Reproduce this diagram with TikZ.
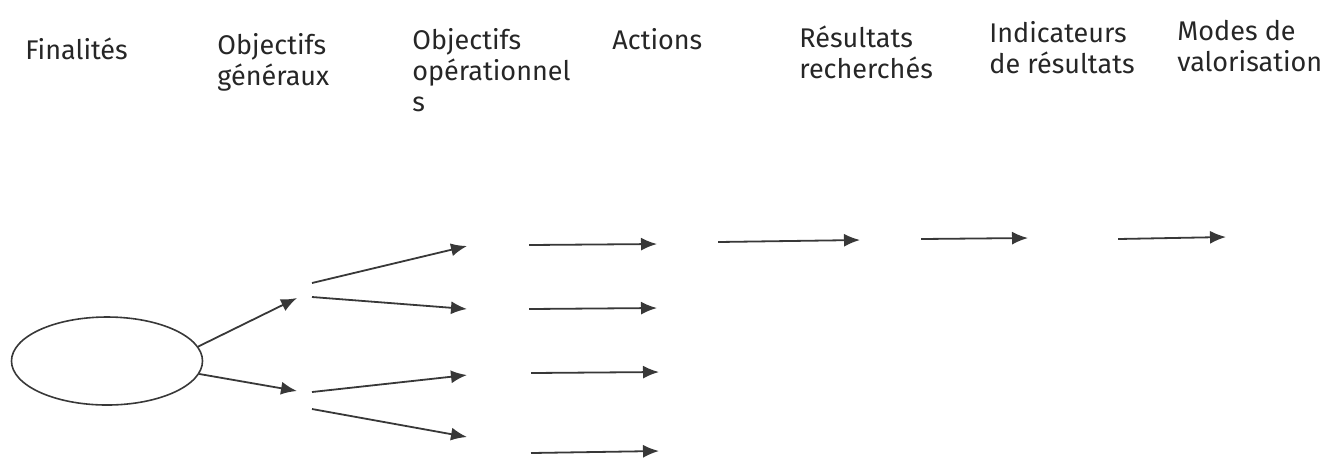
\documentclass[tikz,border=0pt]{standalone}
\usepackage{fontspec}
\setmainfont{Fira Sans}
\usetikzlibrary{arrows.meta,shapes.geometric}
\tikzset{
  hdr/.style={anchor=base west, inner sep=0pt, align=left, text=black!85,
    font=\fontsize{13.5}{15.3}\selectfont},
  fl/.style={-{Latex[length=8pt,width=6.5pt]}, line width=0.9pt, draw=black!78},
}
\begin{document}
\begin{tikzpicture}[x=0.5pt,y=-0.5pt]
\useasboundingbox (0,0) rectangle (1325,457);
% column headers (anchored on the last line)
\node[hdr] (fin) at (25,59) {Finalités};
\node[hdr] (ogen) at (217,85) {Objectifs\\généraux};
\node[hdr] (oop) at (412,111) {Objectifs\\opérationnel\\s};
\node[hdr] (act) at (612,49) {Actions};
\node[hdr] (res) at (799,78) {Résultats\\recherchés};
\node[hdr] (ind) at (989,73) {Indicateurs\\de résultats};
\node[hdr] (val) at (1177,71) {Modes de\\valorisation};
% ellipse
\node[ellipse, draw=black!78, line width=0.8pt, minimum width=95.5pt, minimum height=44pt] (ell) at (107,361){};
% objectifs generaux
\coordinate (og1) at (297,298);
\coordinate (og2) at (297,391);
\draw[fl](ell.9) -- (og1);
\draw[fl](ell.-8) -- (og2);
% objectifs operationnels
\coordinate (s1) at (312,283);
\coordinate (s2) at (312,297);
\coordinate (s3) at (312,392);
\coordinate (s4) at (312,409);
\coordinate (oo1) at (467,246);
\coordinate (oo2) at (467,309);
\coordinate (oo3) at (467,375);
\coordinate (oo4) at (467,437);
\draw[fl](s1) -- (oo1);
\draw[fl](s2) -- (oo2);
\draw[fl](s3) -- (oo3);
\draw[fl](s4) -- (oo4);
% actions
\coordinate (a1) at (529,245);
\coordinate (a2) at (529,309);
\coordinate (a3) at (531,373);
\coordinate (a4) at (531,453);
\coordinate (b1) at (657,244);
\coordinate (b2) at (657,308);
\coordinate (b3) at (659,372);
\coordinate (b4) at (659,451);
\draw[fl](a1) -- (b1);
\draw[fl](a2) -- (b2);
\draw[fl](a3) -- (b3);
\draw[fl](a4) -- (b4);
% resultats, indicateurs, valorisation
\coordinate (r1) at (718,242);
\coordinate (r2) at (860,240);
\draw[fl](r1) -- (r2);
\coordinate (i1) at (921,239);
\coordinate (i2) at (1028,238);
\draw[fl](i1) -- (i2);
\coordinate (v1) at (1118,239);
\coordinate (v2) at (1226,237);
\draw[fl](v1) -- (v2);

\end{tikzpicture}
\end{document}
